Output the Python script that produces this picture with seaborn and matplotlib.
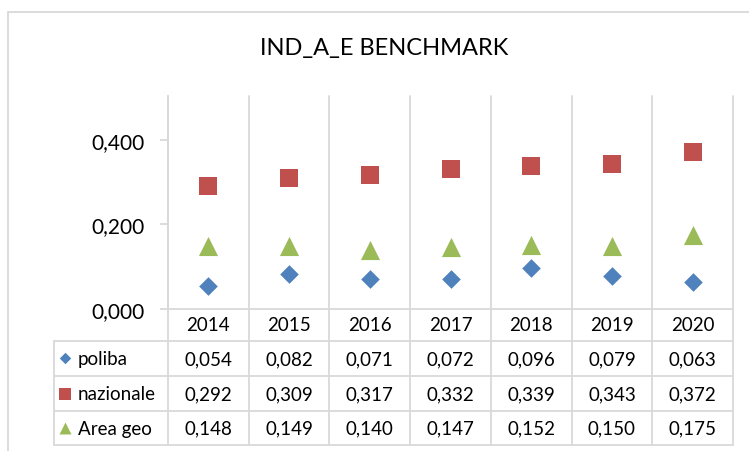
import matplotlib
matplotlib.use("Agg")
import matplotlib.pyplot as plt
import matplotlib.transforms as mtransforms
from matplotlib.lines import Line2D
import seaborn as sns
import pandas as pd

# ---- data ----
years = ["2014", "2015", "2016", "2017", "2018", "2019", "2020"]
poliba = [0.054, 0.082, 0.071, 0.072, 0.096, 0.079, 0.063]
nazionale = [0.292, 0.309, 0.317, 0.332, 0.339, 0.343, 0.372]
area_geo = [0.148, 0.149, 0.140, 0.147, 0.152, 0.150, 0.175]
series_names = ["poliba", "nazionale", "Area geo"]
y_ticks = [0.0, 0.2, 0.4]
title = "IND_A_E BENCHMARK"

series_values = [poliba, nazionale, area_geo]
colors = ["#4F81BD", "#C0504D", "#9BBB59"]
markers = ["D", "s", "^"]
sizes = [90, 170, 190]
key_sizes = [34, 64, 74]

sns.set_theme(style="white")
plt.rcParams["font.family"] = ["Lato", "DejaVu Sans"]

W, H = 749, 452
fig = plt.figure(figsize=(W / 100, H / 100), dpi=100)
ax = fig.add_axes([168 / W, 1 - 310 / H, (733 - 168) / W, 213 / H])

grid_c = "#D9D9D9"
lw = 1.3

for name, vals, c, m, s in zip(series_names, series_values, colors, markers, sizes):
    df = pd.DataFrame({"year": years, "value": vals})
    sns.scatterplot(data=df, x="year", y="value", ax=ax, color=c, marker=m,
                    s=s, linewidth=0, zorder=3, legend=False)

n = len(years)
ax.set_xlim(-0.5, n - 0.5)
ax.set_ylim(0, 0.504)
ax.set_xlabel("")
ax.set_ylabel("")
ax.set_xticks([])
ax.set_yticks(y_ticks)
ax.set_yticklabels([f"{v:.3f}".replace(".", ",") for v in y_ticks], fontsize=15, color="black")
ax.tick_params(axis="y", direction="out", length=6, width=lw, color=grid_c, pad=11, left=True)
for sp in ["top", "right"]:
    ax.spines[sp].set_visible(False)
for sp in ["left", "bottom"]:
    ax.spines[sp].set_color(grid_c)
    ax.spines[sp].set_linewidth(lw)

# table geometry in axes coordinates (below the plot)
trans = mtransforms.blended_transform_factory(ax.transData, ax.transAxes)
row_lines = [-0.150, -0.315, -0.479, -0.638]
year_center = -0.075
row_centers = [-0.232, -0.397, -0.559]
left_col = -0.2018

# vertical category boundaries through plot and table
for k in range(n + 1):
    ax.plot([k - 0.5, k - 0.5], [row_lines[-1], 1.0], transform=trans,
            color=grid_c, lw=lw, clip_on=False, zorder=1)
# horizontal table lines
for yl in row_lines:
    ax.plot([left_col, 1.0], [yl, yl], transform=ax.transAxes, color=grid_c,
            lw=lw, clip_on=False, zorder=1)
ax.plot([left_col, left_col], [row_lines[0], row_lines[-1]], transform=ax.transAxes,
        color=grid_c, lw=lw, clip_on=False, zorder=1)

# year header row
for i, yr in enumerate(years):
    ax.text(i, year_center, yr, transform=trans, ha="center", va="center",
            fontsize=13.5, color="black")

# series rows
for r, (name, vals, c, m, ks) in enumerate(zip(series_names, series_values, colors, markers, key_sizes)):
    yc = row_centers[r]
    ax.scatter([-0.1823], [yc], transform=ax.transAxes, marker=m, s=ks, color=c,
               linewidth=0, clip_on=False, zorder=3)
    ax.text(-0.160, yc, name, transform=ax.transAxes, ha="left", va="center",
            fontsize=13.5, color="black")
    for i, v in enumerate(vals):
        ax.text(i, yc, f"{v:.3f}".replace(".", ","), transform=trans, ha="center",
                va="center", fontsize=13.5, color="black")

# title
fig.text(384 / W, 1 - 49 / H, title, ha="center", va="center", fontsize=17,
         color="black")

# outer chart border (left and top visible)
fig.add_artist(Line2D([8 / W, 8 / W], [0, 1 - 13 / H], color=grid_c, lw=lw))
fig.add_artist(Line2D([8 / W, 1], [1 - 13 / H, 1 - 13 / H], color=grid_c, lw=lw))

fig.savefig("out.png", dpi=100)
